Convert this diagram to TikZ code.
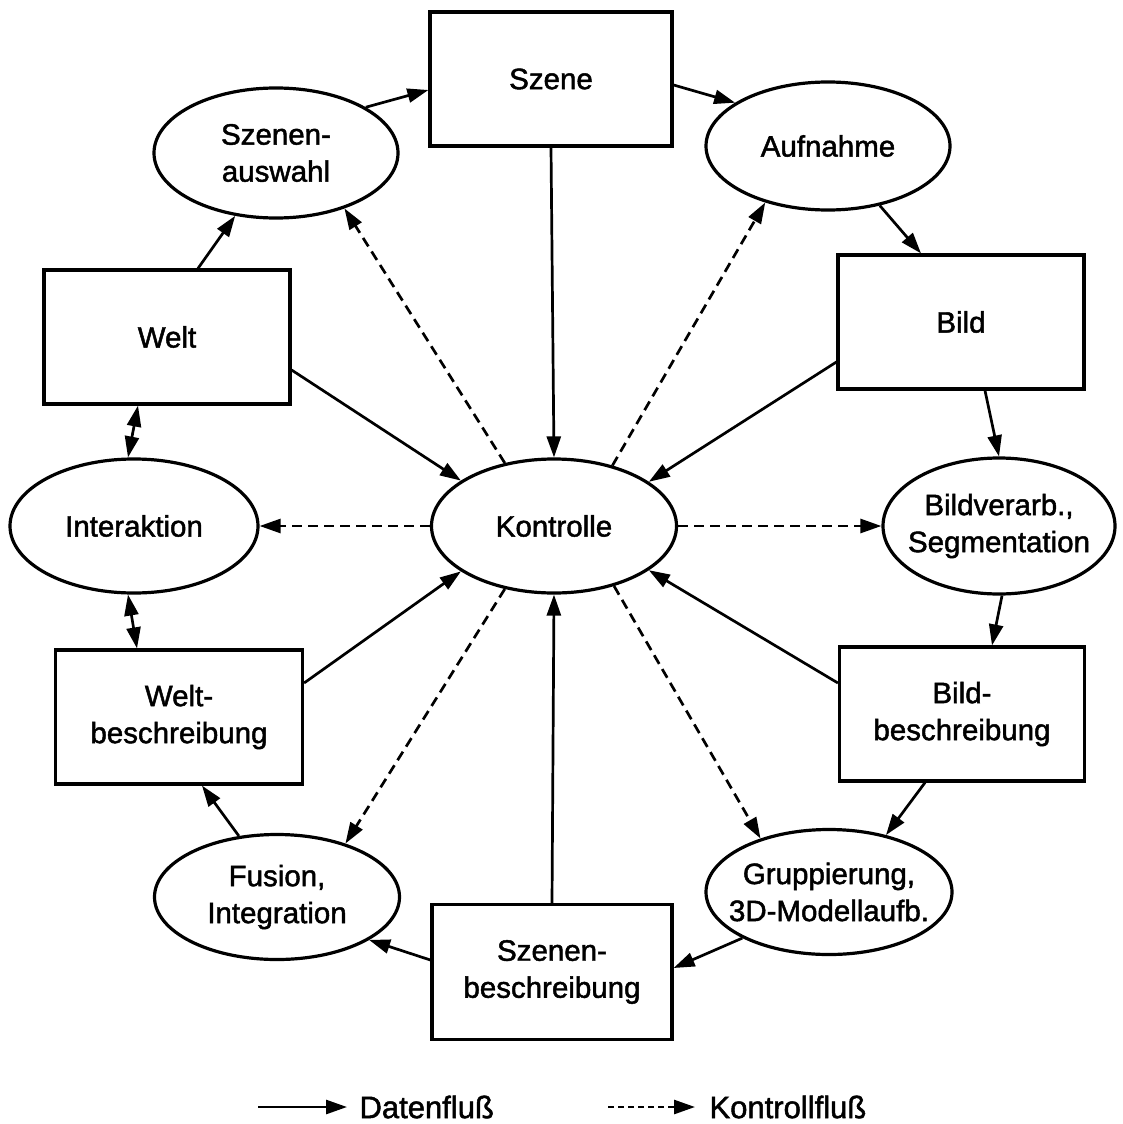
\documentclass[tikz,border=0pt]{standalone}
\usepackage{fontspec}
\setmainfont{Liberation Sans}[FakeBold=1.6]
\usetikzlibrary{shapes.geometric,arrows.meta}
\begin{document}
\begin{tikzpicture}[x=1pt,y=-1pt,
  lbl/.style={font=\fontsize{29.5}{37}\selectfont,align=center},
  box/.style={draw,line width=3.2pt,rectangle,minimum height=134pt,inner sep=0pt,lbl},
  ell/.style={draw,line width=3.2pt,ellipse,inner sep=0pt},
  data/.style={line width=2.7pt,-{Triangle[length=21pt,width=14pt]}},
  dbl/.style={line width=2.7pt,{Triangle[length=21pt,width=14pt]}-{Triangle[length=21pt,width=14pt]}},
  ctrl/.style={data,dash pattern=on 10pt off 6pt},
]
\useasboundingbox (0,0) rectangle (1123,1124);

% rectangles
\node[box,minimum width=242pt] (szene) at (551,79) {Szene};
\node[box,minimum width=246pt] (welt) at (167,337) {Welt};
\node[box,minimum width=246pt] (bild) at (961,322) {Bild};
\node[box,minimum width=247pt] (weltb) at (179,717) {Welt-\\beschreibung};
\node[box,minimum width=245pt] (bildb) at (962,714) {Bild-\\beschreibung};
\node[box,minimum width=240pt,minimum height=135pt] (szenenb) at (552,972) {Szenen-\\beschreibung};

% ellipses
\node[ell,minimum width=244pt,minimum height=130pt,label={[lbl]center:{Szenen-\\auswahl}}] (auswahl) at (276,153) {};
\node[ell,minimum width=244pt,minimum height=128pt,label={[lbl]center:Aufnahme}] (aufnahme) at (828,146) {};
\node[ell,minimum width=248pt,minimum height=134pt,label={[lbl]center:Interaktion}] (interaktion) at (134,526) {};
\node[ell,minimum width=245pt,minimum height=134pt,label={[lbl]center:Kontrolle}] (kontrolle) at (554,526) {};
\node[ell,minimum width=232pt,minimum height=136pt,label={[lbl]center:{Bildverarb.,\\Segmentation}}] (bildverarb) at (999,526) {};
\node[ell,minimum width=245pt,minimum height=125pt,label={[lbl]center:{Fusion,\\Integration}}] (fusion) at (277,897) {};
\node[ell,minimum width=246pt,minimum height=125pt,label={[lbl]center:{Gruppierung,\\3D-Modellaufb.}}] (grupp) at (829,892) {};

% data flow around the circle
\draw[data] (auswahl.27) -- ([yshift=-11pt]szene.west);
\draw[data] ([yshift=-6pt]szene.east) -- (aufnahme.155);
\draw[data] (aufnahme.-49) -- ([xshift=-40pt]bild.north);
\draw[data] ([xshift=24pt]bild.south) -- (bildverarb.north);
\draw[data] ([xshift=3pt]bildverarb.south) -- ([xshift=30pt]bildb.north);
\draw[data] ([xshift=-37pt]bildb.south) -- (grupp.45);
\draw[data] (grupp.-152) -- ([yshift=4pt]szenenb.east);
\draw[data] ([yshift=12pt]szenenb.west) -- (fusion.-25);
\draw[data] (fusion.122) -- ([xshift=23pt]weltb.south);
\draw[data] ([xshift=31pt]welt.north) -- (auswahl.-123);
\draw[dbl] ([xshift=-29pt]welt.south) -- ([xshift=-6pt]interaktion.north);
\draw[dbl] ([xshift=-6pt]interaktion.south) -- ([xshift=-42pt]weltb.north);

% data flow into Kontrolle
\draw[data] ([yshift=-33pt]welt.east) -- (kontrolle.154);
\draw[data] ([yshift=-40pt]bild.west) -- (kontrolle.25);
\draw[data] (szene.south) -- (kontrolle.north);
\draw[data] (szenenb.north) -- (kontrolle.south);
\draw[data] ([yshift=34pt]weltb.east) -- (kontrolle.206);
\draw[data] ([yshift=31pt]bildb.west) -- (kontrolle.-25);

% control flow
\draw[ctrl] (kontrolle.128) -- (auswahl.-39);
\draw[ctrl] (kontrolle.46) -- (aufnahme.-138);
\draw[ctrl] (kontrolle.west) -- (interaktion.east);
\draw[ctrl] (kontrolle.east) -- (bildverarb.west);
\draw[ctrl] (kontrolle.-45) -- (grupp.142);
\draw[ctrl] (kontrolle.-128) -- (fusion.38);

% legend
\coordinate (l1s) at (258,1107);
\coordinate (l1e) at (347,1107);
\node[lbl,anchor=west,font=\fontsize{31}{37}\selectfont] (l1t) at (356,1107) {Datenfluß};
\draw[data] (l1s) -- (l1e);
\coordinate (l2s) at (608,1107);
\coordinate (l2e) at (695,1107);
\node[lbl,anchor=west,font=\fontsize{31}{37}\selectfont] (l2t) at (706,1107) {Kontrollfluß};
\draw[ctrl,dash pattern=on 6pt off 4pt] (l2s) -- (l2e);
\end{tikzpicture}
\end{document}
